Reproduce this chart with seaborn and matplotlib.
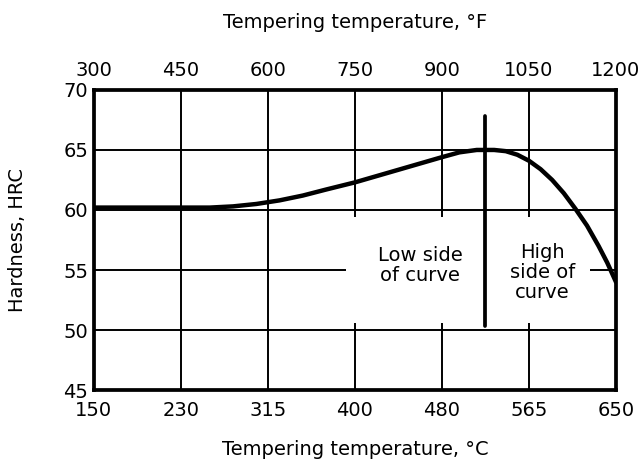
import matplotlib
matplotlib.use('Agg')
import matplotlib.pyplot as plt
from matplotlib.patches import Rectangle
import seaborn as sns
import pandas as pd

# curve (x in deg F, hardness in HRC)
temp_f = [300, 400, 500, 540, 580, 620, 660, 700, 750, 800, 850, 900, 930, 960, 990, 1010, 1030, 1050,
          1070, 1090, 1110, 1130, 1150, 1170, 1185, 1200]
hardness = [60.2, 60.2, 60.2, 60.3, 60.5, 60.8, 61.2, 61.7, 62.3, 63.0, 63.7, 64.4, 64.8, 65.0, 65.0, 64.9, 64.6, 64.1,
            63.4, 62.5, 61.4, 60.1, 58.7, 57.0, 55.6, 54.0]

f_ticks = [300, 450, 600, 750, 900, 1050, 1200]
c_labels = ['150', '230', '315', '400', '480', '565', '650']
hrc_ticks = [45, 50, 55, 60, 65, 70]

split_f = 975
split_lo, split_hi = 50.3, 67.8

df = pd.DataFrame({'temp_f': temp_f, 'hrc': hardness})

sns.set_style('white')
plt.rcParams['font.family'] = ['DejaVu Sans']
plt.rcParams['text.color'] = 'black'
plt.rcParams['axes.labelcolor'] = 'black'
plt.rcParams['xtick.color'] = 'black'
plt.rcParams['ytick.color'] = 'black'

fig = plt.figure(figsize=(6.43, 4.66), dpi=100)
ax = fig.add_axes([0.146, 0.163, 0.812, 0.644])

sns.lineplot(data=df, x='temp_f', y='hrc', ax=ax, color='black', lw=3.2, zorder=5)

ax.set_xlim(300, 1200)
ax.set_ylim(45, 70)
ax.set_xticks(f_ticks)
ax.set_xticklabels(c_labels)
ax.set_yticks(hrc_ticks)
ax.grid(True, color='black', lw=1.4)
ax.tick_params(length=0, labelsize=14, pad=4)
ax.tick_params(axis='x', pad=8)
for s in ax.spines.values():
    s.set_visible(True)
    s.set_color('black')
    s.set_linewidth(2.7)

# blank area behind the labels, grid is broken there
ax.add_patch(Rectangle((735, 50.6), 420, 8.8, facecolor='white', edgecolor='none', zorder=3))

ax.plot([split_f, split_f], [split_lo, split_hi], color='black', lw=2.7, zorder=6)
ax.text(862, 55.4, 'Low side\nof curve', ha='center', va='center', fontsize=14, linespacing=1.05, zorder=7)
ax.text(1073, 54.8, 'High\nside of\ncurve', ha='center', va='center', fontsize=14, linespacing=1.05, zorder=7)

ax.set_xlabel('Tempering temperature, \u00b0C', fontsize=14, labelpad=14)
ax.set_ylabel('Hardness, HRC', fontsize=14, labelpad=26)

top = ax.twiny()
top.set_xlim(ax.get_xlim())
top.set_xticks(f_ticks)
top.set_xticklabels([str(v) for v in f_ticks])
top.tick_params(length=0, labelsize=14, pad=7)
top.set_xlabel('Tempering temperature, \u00b0F', fontsize=14, labelpad=24)
for s in top.spines.values():
    s.set_visible(False)

fig.savefig('out.png', dpi=100)
